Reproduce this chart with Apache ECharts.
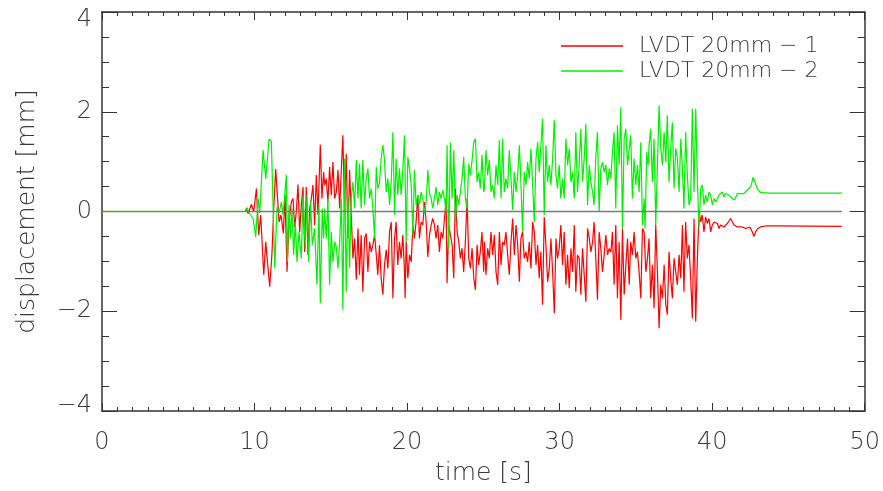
<!DOCTYPE html>
<html><head><meta charset="utf-8">
<script src="https://cdn.jsdelivr.net/npm/echarts@6/dist/echarts.min.js"></script>
<style>html,body{margin:0;padding:0;background:#fff}#c{width:883px;height:491px}</style>
</head><body><div id="c"></div>
<script>
// ---- data (time in s, displacement in mm) ----
const seriesNames = ['LVDT 20mm \u2212 1', 'LVDT 20mm \u2212 2'];
const xRange = [0, 50];
const yRange = [-4, 4];

// LVDT 20mm - 1 (red)
const t1 = [
  0, 9.4, 9.467, 9.576, 9.795, 9.947, 10.122, 10.274, 10.405, 10.602, 10.733, 10.863, 10.994, 11.147, 11.256, 11.387, 11.496, 11.605, 11.736, 11.889, 11.998, 12.129, 12.26, 12.412, 12.521, 12.63, 12.74, 12.849, 12.958, 13.067, 13.176, 13.285, 13.394, 13.503, 13.612, 13.721, 13.83, 13.94, 14.049, 14.158, 14.31, 14.419, 14.528,
  14.59, 14.70, 14.81, 14.92, 15.03, 15.14, 15.25, 15.36, 15.47, 15.58, 15.69, 15.79, 15.90, 16.01, 16.12, 16.23, 16.34, 16.45, 16.56, 16.67, 16.78, 16.88, 16.99, 17.10, 17.21, 17.32, 17.43, 17.54, 17.65, 17.76, 17.87, 17.98, 18.08, 18.19, 18.30, 18.41, 18.52, 18.63, 18.74, 18.85, 18.96, 19.07, 19.18, 19.28, 19.39, 19.50, 19.61, 19.72, 19.83,
  19.87, 19.94, 20.05, 20.16, 20.27, 20.38, 20.48, 20.59, 20.70, 20.81, 20.92, 21.03, 21.14, 21.25, 21.36, 21.47, 21.58, 21.68, 21.79, 21.90, 22.01, 22.12, 22.23, 22.34, 22.45, 22.56, 22.62, 22.73, 22.84, 22.95, 23.06, 23.17, 23.28, 23.39, 23.49, 23.60, 23.71, 23.82, 23.93, 24.04, 24.15, 24.26, 24.37, 24.48, 24.59, 24.69, 24.80, 24.91, 25.02,
  25.07, 25.17, 25.28, 25.39, 25.50, 25.61, 25.72, 25.83, 25.94, 26.05, 26.16, 26.26, 26.37, 26.48, 26.59, 26.70, 26.81, 26.92, 27.03, 27.14, 27.25, 27.36, 27.46, 27.57, 27.68, 27.79, 27.90, 28.01, 28.12, 28.23, 28.34, 28.45, 28.56, 28.66, 28.77, 28.88, 28.99, 29.10, 29.21, 29.32, 29.43, 29.54, 29.65, 29.76, 29.86, 29.97, 30.08, 30.19,
  30.30, 30.41, 30.52, 30.63, 30.74, 30.85, 30.96, 31.06, 31.17, 31.28, 31.39, 31.50, 31.61, 31.72, 31.83, 31.94, 32.05, 32.16, 32.26, 32.37, 32.48, 32.59, 32.70, 32.81, 32.92, 33.03, 33.14, 33.25, 33.36, 33.46, 33.57, 33.68, 33.79, 33.90, 34.01, 34.12, 34.23, 34.34, 34.45, 34.56, 34.66, 34.77, 34.88, 34.99, 35.10, 35.21, 35.32, 35.43, 35.54,
  35.65, 35.76, 35.86, 35.97, 36.08, 36.19, 36.30, 36.41, 36.52, 36.63, 36.74, 36.85, 36.96, 37.06, 37.17, 37.28, 37.39, 37.50, 37.61, 37.72, 37.83, 37.94, 38.05, 38.15, 38.26, 38.37, 38.48, 38.59, 38.70, 38.81, 38.92, 39.03, 39.14, 39.25, 39.35, 39.46, 39.57, 39.68, 39.79, 39.90, 40.01, 40.12, 40.34, 40.45, 40.55, 40.77, 40.99, 41.21, 41.43, 41.65, 41.97, 42.19, 42.47, 42.63, 42.74, 42.84, 42.99, 43.17, 43.50, 44.05, 48.5
];
const v1 = [
  0, 0, 0.06, -0.04, 0.14, 0.0, 0.46, -0.47, -0.07, -1.27, -0.61, -1.07, -1.51, -0.81, 0.06, 0.85, 0.33, -0.21, -0.07, -0.44, 0.33, -1.21, -0.21, 0.19, 0.26, -0.31, 0.0, 0.54, -0.41, 0.13, 0.49, -0.81, 0.49, -0.87, 0.06, 0.26, 0.53, -0.27, 0.73, -0.07, 1.34, 0.26, 0.79,
  0.53, 0.66, 0.19, 0.89, 0.33, 0.99, 0.26, 0.39, 0.83, 0.06, 0.86, 1.53, 0.0, 1.16, -0.54, 0.83, -0.07, -0.94, -0.54, -1.37, -0.34, -1.27, -0.47, -1.61, -0.54, -0.44, -1.21, -0.61, -0.81, -0.67, -0.47, -0.87, -1.27, -0.67, -1.34, -1.67, -1.07, -0.77, -1.14, -0.41, -0.21, -1.74, -0.54, -0.21, -1.07, -0.61, -0.94, -0.47, -1.21,
  -1.74, -0.61, -1.34, -0.87, -1.01, -0.27, -0.54, -0.21, 0.33, -0.54, -0.21, -0.27, 0.19, -0.21, -0.91, -0.47, -0.27, -0.14, -0.27, -0.54, -0.27, -0.81, -0.41, -0.54, -0.14, 0.26, -1.44, -0.27, -0.27, -0.67, -1.34, 0.46, -0.41, -0.61, -0.94, -0.74, -1.21, -0.61, 0.26, -0.94, -1.14, -0.74, -1.34, -1.57, -0.67, -1.07, -0.81, -0.41, -1.21,
  -0.61, -1.27, -0.74, -0.94, -0.41, -0.87, -0.47, -1.21, -1.47, -0.41, -1.07, -0.61, -0.67, -0.41, -0.87, -1.27, -0.61, -0.14, -0.87, -0.27, -0.67, -1.41, -0.54, -0.41, -0.94, -0.81, -1.01, -0.61, -1.14, -0.21, -0.41, -1.07, -0.67, -1.34, -0.81, -1.87, -0.11, -0.67, -1.41, -1.14, -0.54, -1.21, -2.04, -0.54, -0.94, -0.74, -0.27, -1.07,
  -0.41, -1.47, -0.87, -1.54, -0.74, -1.21, -0.27, -1.61, -0.87, -0.94, -1.67, -0.74, -1.27, -1.81, -0.34, -0.54, -0.81, -0.61, -0.21, -0.94, -1.77, -0.41, -0.74, -1.21, -0.87, -0.47, -0.87, -0.74, -0.81, -0.41, -1.47, -0.27, -1.74, -0.61, -2.17, -0.34, -1.67, -1.07, -0.54, -1.47, -0.61, -0.87, -0.41, -0.94, -0.81, -1.21, -1.74, -0.34, -0.41,
  -1.21, -0.94, -0.54, -1.74, -1.07, -1.94, -0.27, -1.21, -2.34, -1.47, -1.74, -1.07, -1.87, -2.07, -0.81, -1.34, -1.74, -0.94, -1.21, -1.47, -0.87, -1.34, -0.27, -1.61, -0.21, -0.94, -0.67, -1.34, -2.14, -0.14, -2.21, -0.94, 0.0, -0.21, -0.07, -0.41, -0.11, -0.24, -0.14, -0.41, -0.27, -0.21, -0.24, -0.34, -0.27, -0.31, -0.24, -0.14, -0.27, -0.31, -0.31, -0.34, -0.31, -0.41, -0.50, -0.41, -0.34, -0.31, -0.29, -0.29, -0.30
];

// LVDT 20mm - 2 (green)
const t2 = [
  0, 9.4, 9.5, 9.685, 9.904, 10.078, 10.231, 10.34, 10.558, 10.733, 10.951, 11.103, 11.322, 11.474, 11.605, 11.758, 11.867, 11.976, 12.085, 12.151, 12.26, 12.347, 12.456, 12.565, 12.674, 12.783, 12.914, 13.067, 13.176, 13.329, 13.438, 13.547, 13.678, 13.787, 13.94, 14.092, 14.223, 14.31, 14.441, 14.528,
  14.59, 14.70, 14.81, 14.92, 15.03, 15.14, 15.25, 15.36, 15.47, 15.58, 15.69, 15.79, 15.90, 16.01, 16.12, 16.23, 16.34, 16.45, 16.56, 16.67, 16.78, 16.88, 16.99, 17.10, 17.21, 17.32, 17.43, 17.54, 17.65, 17.76, 17.87, 17.98, 18.08, 18.19, 18.30, 18.41, 18.52, 18.63, 18.74, 18.85, 18.96, 19.07, 19.18, 19.28, 19.39, 19.50, 19.61, 19.72,
  19.83, 19.94, 20.05, 20.16, 20.27, 20.38, 20.48, 20.59, 20.70, 20.81, 20.92, 21.03, 21.14, 21.25, 21.36, 21.47, 21.58, 21.68, 21.79, 21.90, 22.01, 22.12, 22.23, 22.34, 22.45, 22.56, 22.62, 22.73, 22.84, 22.95, 23.06, 23.17, 23.28, 23.39, 23.49, 23.60, 23.71, 23.82, 23.93, 24.04, 24.15, 24.26, 24.37, 24.48, 24.59, 24.69, 24.80, 24.91, 25.02,
  25.07, 25.17, 25.28, 25.39, 25.50, 25.61, 25.72, 25.83, 25.94, 26.05, 26.16, 26.26, 26.37, 26.48, 26.59, 26.70, 26.81, 26.92, 27.03, 27.14, 27.25, 27.36, 27.46, 27.57, 27.68, 27.79, 27.90, 28.01, 28.12, 28.23, 28.34, 28.45, 28.56, 28.66, 28.77, 28.88, 28.99, 29.10, 29.21, 29.32, 29.43, 29.54, 29.65, 29.76, 29.86, 29.97, 30.08, 30.19,
  30.30, 30.41, 30.52, 30.63, 30.74, 30.85, 30.96, 31.06, 31.17, 31.28, 31.39, 31.50, 31.61, 31.72, 31.83, 31.94, 32.05, 32.16, 32.26, 32.37, 32.48, 32.59, 32.70, 32.81, 32.92, 33.03, 33.14, 33.25, 33.36, 33.46, 33.57, 33.68, 33.79, 33.90, 34.01, 34.12, 34.23, 34.34, 34.45, 34.56, 34.66, 34.77, 34.88, 34.99, 35.10, 35.21, 35.32, 35.43, 35.54,
  35.60, 35.71, 35.80, 35.86, 35.97, 36.08, 36.19, 36.30, 36.41, 36.52, 36.63, 36.74, 36.85, 36.96, 37.06, 37.17, 37.28, 37.39, 37.50, 37.61, 37.72, 37.83, 37.94, 38.05, 38.15, 38.26, 38.37, 38.48, 38.59, 38.70, 38.81, 38.92, 39.03, 39.14, 39.25, 39.35, 39.46, 39.57, 39.68, 39.79, 39.90, 40.01, 40.12, 40.23, 40.34, 40.45, 40.66, 40.77, 40.88, 41.10, 41.32, 41.47, 41.65, 41.86, 42.08, 42.30, 42.52, 42.69, 42.80, 42.95, 43.13, 43.39, 43.72, 48.5
];
const v2 = [
  0, 0, 0.08, -0.04, -0.14, -0.51, 0.26, -0.04, 1.23, 0.66, 1.45, 1.41, -1.14, 0.09, -0.04, 0.19, -0.07, 0.33, 0.73, -1.01, 0.13, -0.54, 0.06, -0.87, -0.21, -1.01, -0.41, -0.94, 0.33, -0.74, 0.33, -1.01, 0.19, -0.67, -0.34, -1.47, 0.13, -1.84, 0.06, -0.54,
  0.06, -0.54, 0.26, -1.47, -0.41, -1.01, -0.61, -0.71, -1.14, -0.61, 0.26, -1.97, 1.06, -1.61, 0.33, -1.14, 0.26, 0.59, 0.06, 1.03, 0.26, 0.96, 0.06, 1.03, 0.13, 0.66, 0.86, 0.26, 0.46, 0.06, -0.54, 0.89, 0.46, 0.56, 1.06, 1.33, 1.03, 0.39, 0.66, 0.13, 0.59, 1.59, -0.07, 1.06, 0.33, 0.86, 0.33, 0.83,
  1.53, -0.61, 1.09, 0.86, 0.53, -0.47, 0.83, 0.13, 0.33, 0.13, 0.39, 0.26, -0.04, 0.19, 0.83, 0.36, 0.26, 0.06, 0.26, 0.49, 0.13, 0.39, 0.26, 0.43, 0.26, 0.0, 1.33, -0.74, 1.39, 0.26, 1.23, -0.21, 0.33, 0.13, 0.39, 0.66, 1.09, 0.26, 0.06, 0.96, 0.73, 1.03, 1.39, 1.46, 0.59, 0.79, 0.46, 1.13, 0.39,
  0.46, 1.23, 0.73, 1.03, 0.39, 0.53, 0.26, 0.93, 0.53, 1.43, 0.26, 1.46, 0.39, 0.66, 0.46, 1.23, 0.66, 0.03, 0.79, 0.39, 0.73, 1.33, 0.59, -0.41, 0.79, 0.53, 0.99, 0.66, 1.26, 0.53, -0.21, 1.06, 1.39, 0.79, 1.33, 1.86, -0.07, 1.33, 0.59, 0.93, 0.53, 1.06, 1.83, 0.73, 0.46, 0.93, 0.26, 0.66,
  0.26, 1.46, 0.93, 1.26, 0.59, 0.79, 0.26, 1.59, 0.39, 0.93, 1.66, 0.59, 1.06, 1.76, 0.13, 0.93, 0.59, 0.39, 0.13, 1.09, 1.59, 0.0, 0.86, 0.99, 0.79, 0.93, 0.53, 0.86, 0.66, 1.19, 1.59, 0.06, 1.73, 0.93, 2.09, -0.34, 1.46, 1.66, 0.93, 1.26, 1.53, 0.26, 1.06, 0.53, 0.93, 0.39, 1.39, -0.27, 0.26,
  -0.34, 1.19, 0.93, 1.33, 1.66, 0.59, 1.46, -0.27, 0.93, 2.13, 1.26, 0.93, 1.59, 0.99, 1.93, 0.59, 1.26, 1.79, 0.46, 1.26, 1.06, 0.39, 1.46, 0.86, 0.06, 1.59, 0.73, 0.13, 0.26, 2.06, 0.39, 2.06, 0.59, -0.34, 0.46, 0.53, 0.13, 0.33, 0.19, 0.39, 0.33, 0.13, 0.26, 0.19, 0.26, 0.33, 0.39, 0.29, 0.36, 0.33, 0.26, 0.23, 0.36, 0.36, 0.36, 0.43, 0.49, 0.69, 0.66, 0.46, 0.39, 0.38, 0.37, 0.37
];

// zero reference line
const zeroT = [0, 9.4, 48.5];

// ---- chart ----
const FONT = "'DejaVu Sans', sans-serif";
const TXT = '#3a3a3a';
const AX = '#333';
const pairs = (t, v) => t.map((x, i) => [x, v[i]]);
const txtBase = { fontSize: 24, color: TXT, fontFamily: FONT, fontWeight: 200 };
const minusFmt = v => {
  const s = v < 0 ? '\u2212' + Math.abs(v) : String(v);
  if (v === yRange[1]) return '{t|' + s + '}';
  if (v === yRange[0]) return '{b|' + s + '}';
  return s;
};

function xAx(pos, labels) {
  return {
    type: 'value', position: pos, min: xRange[0], max: xRange[1], interval: 10,
    axisLine: { show: true, onZero: false, lineStyle: { color: AX, width: 1.5 } },
    axisTick: { show: true, inside: true, length: 8, lineStyle: { color: AX, width: 1 } },
    minorTick: { show: true, splitNumber: 10, length: 4, lineStyle: { color: AX, width: 1 } },
    splitLine: { show: false },
    axisLabel: Object.assign({ show: labels, margin: 20 }, txtBase),
    name: labels ? 'time [s]' : '', nameLocation: 'middle', nameGap: 50,
    nameTextStyle: Object.assign({}, txtBase, { fontSize: 25 })
  };
}
function yAx(pos, labels) {
  return {
    type: 'value', position: pos, min: yRange[0], max: yRange[1], interval: 2,
    axisLine: { show: true, onZero: false, lineStyle: { color: AX, width: 1.5 } },
    axisTick: { show: true, inside: true, length: 15, lineStyle: { color: AX, width: 1 } },
    minorTick: { show: true, splitNumber: 4, length: 7, lineStyle: { color: AX, width: 1 } },
    splitLine: { show: false },
    axisLabel: Object.assign({ show: labels, margin: 10, formatter: minusFmt,
      rich: { t: Object.assign({ padding: [16, 0, 0, 0] }, txtBase), b: Object.assign({ padding: [0, 0, 10, 0] }, txtBase) } }, txtBase),
    name: labels ? 'displacement [mm]' : '', nameLocation: 'middle', nameGap: 62,
    nameTextStyle: Object.assign({}, txtBase, { fontSize: 25 })
  };
}

const chart = echarts.init(document.getElementById('c'), null, { renderer: 'canvas' });
chart.setOption({
  animation: false,
  backgroundColor: '#fff',
  grid: { left: 102, right: 17, top: 12, bottom: 78, containLabel: false },
  xAxis: [xAx('bottom', true), xAx('top', false)],
  yAxis: [yAx('left', true), yAx('right', false)],
  legend: {
    data: seriesNames, orient: 'vertical', left: 561, top: 35, padding: 0,
    icon: 'rect', itemWidth: 62, itemHeight: 1.5, itemGap: 3,
    textStyle: Object.assign({}, txtBase, { fontSize: 22, lineHeight: 22, padding: [0, 0, 0, 11] })
  },
  series: [
    { name: seriesNames[0], type: 'line', data: pairs(t1, v1), showSymbol: false, symbol: 'none',
      lineStyle: { color: '#ff0000', width: 1.2 }, itemStyle: { color: '#ff0000' }, z: 2 },
    { name: seriesNames[1], type: 'line', data: pairs(t2, v2), showSymbol: false, symbol: 'none',
      lineStyle: { color: '#00f000', width: 1.2 }, itemStyle: { color: '#00f000' }, z: 3 },
    { name: 'zero0', type: 'line', data: [[zeroT[0], 0], [zeroT[1], 0]], showSymbol: false, symbol: 'none',
      lineStyle: { color: '#6a9a22', width: 1.5 }, z: 4, silent: true },
    { name: 'zero1', type: 'line', data: [[zeroT[1], 0], [zeroT[2], 0]], showSymbol: false, symbol: 'none',
      lineStyle: { color: '#7a7a7a', width: 1.5 }, z: 4, silent: true }
  ]
});
</script>
</body></html>
